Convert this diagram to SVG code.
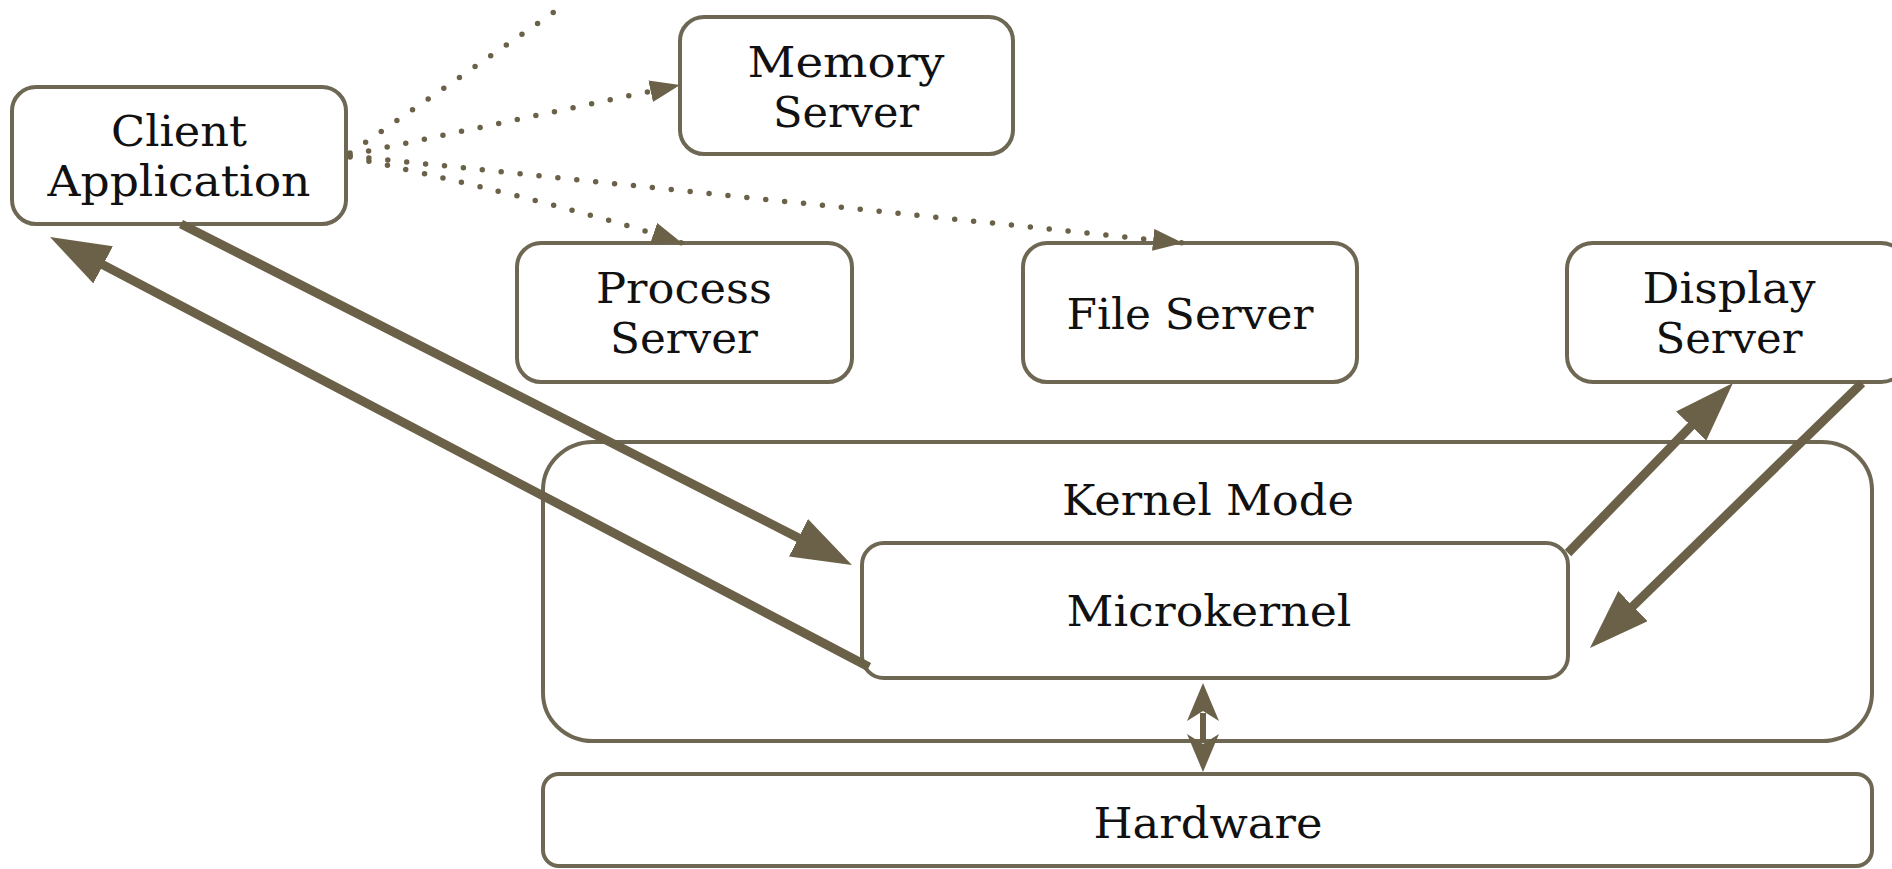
<svg xmlns="http://www.w3.org/2000/svg" width="1892" height="869" viewBox="0 0 1892 869">
<style>
  .box { fill: #ffffff; stroke: #6e6753; stroke-width: 4; }
  .lbl { font-family: "DejaVu Serif", "Liberation Serif", serif; font-size: 43px; fill: #111111; text-anchor: middle; }
  .thick { fill: none; stroke: #6b6148; stroke-width: 9; }
  .thin { fill: none; stroke: #6b6148; stroke-width: 6; }
  .dots { fill: none; stroke: #6b6148; stroke-width: 5.5; stroke-dasharray: 0 19; stroke-linecap: round; }
</style>
<defs>
  <marker id="bigHead" markerUnits="userSpaceOnUse" markerWidth="60" markerHeight="42" refX="20" refY="21" orient="auto" viewBox="0 0 60 42">
    <path d="M0,0 L60,21 L0,42 z" fill="#6b6148"/>
  </marker>
  <marker id="dblHead" markerUnits="userSpaceOnUse" markerWidth="38" markerHeight="32" refX="8" refY="16" orient="auto-start-reverse" viewBox="0 0 38 32">
    <path d="M0,0 L38,16 L0,32 L10,16 z" fill="#6b6148"/>
  </marker>
  <marker id="dotHead" markerUnits="userSpaceOnUse" markerWidth="30" markerHeight="22" refX="30" refY="11" orient="auto" viewBox="0 0 30 22">
    <path d="M0,0 L30,11 L0,22 z" fill="#6b6148"/>
  </marker>
</defs>
<rect width="1892" height="869" fill="#ffffff"/>

<g id="kernel-mode">
  <rect class="box" x="543" y="442" width="1329" height="299" rx="50" ry="48"/>
  <text class="lbl" x="1208" y="515" textLength="292" lengthAdjust="spacingAndGlyphs">Kernel Mode</text>
</g>
<g id="hardware">
  <rect class="box" x="543" y="774" width="1329" height="92" rx="16"/>
  <text class="lbl" x="1208" y="838" textLength="229" lengthAdjust="spacingAndGlyphs">Hardware</text>
</g>
<g id="microkernel">
  <rect class="box" x="862" y="543" width="706" height="135" rx="22"/>
  <text class="lbl" x="1209" y="626" textLength="285" lengthAdjust="spacingAndGlyphs">Microkernel</text>
</g>
<g id="client-application">
  <rect class="box" x="12" y="87" width="334" height="137" rx="24"/>
  <text class="lbl" x="179" y="146" textLength="136" lengthAdjust="spacingAndGlyphs">Client</text>
  <text class="lbl" x="179" y="196" textLength="263" lengthAdjust="spacingAndGlyphs">Application</text>
</g>
<g id="memory-server">
  <rect class="box" x="680" y="17" width="333" height="137" rx="24"/>
  <text class="lbl" x="846" y="77" textLength="197" lengthAdjust="spacingAndGlyphs">Memory</text>
  <text class="lbl" x="846" y="127" textLength="146" lengthAdjust="spacingAndGlyphs">Server</text>
</g>
<g id="process-server">
  <rect class="box" x="517" y="243" width="335" height="139" rx="24"/>
  <text class="lbl" x="684" y="303" textLength="176" lengthAdjust="spacingAndGlyphs">Process</text>
  <text class="lbl" x="684" y="353" textLength="148" lengthAdjust="spacingAndGlyphs">Server</text>
</g>
<g id="file-server">
  <rect class="box" x="1023" y="243" width="334" height="139" rx="24"/>
  <text class="lbl" x="1190" y="329" textLength="247" lengthAdjust="spacingAndGlyphs">File Server</text>
</g>
<g id="display-server">
  <rect class="box" x="1567" y="243" width="340" height="139" rx="26"/>
  <text class="lbl" x="1729" y="303" textLength="173" lengthAdjust="spacingAndGlyphs">Display</text>
  <text class="lbl" x="1729" y="353" textLength="147" lengthAdjust="spacingAndGlyphs">Server</text>
</g>

<g id="connectors">
  <path class="dots" d="M350,153 L557,10"/>
  <path class="dots" d="M350,155 L680,85" marker-end="url(#dotHead)"/>
  <path class="dots" d="M350,156 L1183,243" marker-end="url(#dotHead)"/>
  <path class="dots" d="M350,157 Q570,205 682,243" marker-end="url(#dotHead)"/>
  <path class="thick" d="M181,224 L816.3,546.9" marker-end="url(#bigHead)"/>
  <path class="thick" d="M869,667 L85.4,255.6" marker-end="url(#bigHead)"/>
  <path class="thick" d="M1568,553 L1705.1,411.7" marker-end="url(#bigHead)"/>
  <path class="thick" d="M1862,383 L1618.6,620.1" marker-end="url(#bigHead)"/>
  <path class="thin" d="M1203,713 L1203,742" marker-start="url(#dblHead)" marker-end="url(#dblHead)"/>
</g>
</svg>
